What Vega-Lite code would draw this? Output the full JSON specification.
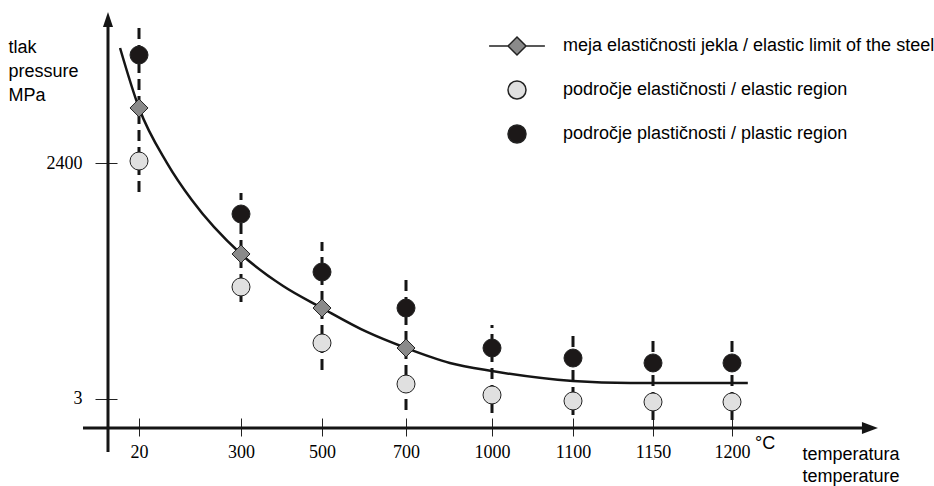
{
  "$schema": "https://vega.github.io/schema/vega-lite/v6.json",
  "width": 770,
  "height": 416,
  "autosize": {"type": "none"},
  "padding": {"left": 108, "top": 12, "right": 56, "bottom": 58},
  "background": "white",
  "config": {"view": {"stroke": null}, "axis": {"grid": false}},
  "title": {"text": "°C", "orient": "bottom", "anchor": "start", "frame": "group", "dx": 647, "dy": -50, "offset": 0, "font": "Liberation Sans", "fontSize": 18, "fontWeight": "normal", "color": "black"},
  "layer": [
    {
      "data": {"values": [
        {"t": 20, "lo": 2106, "hi": 3771},
        {"t": 300, "lo": 988, "hi": 2095},
        {"t": 500, "lo": 298, "hi": 1598},
        {"t": 700, "lo": -109, "hi": 1242},
        {"t": 1000, "lo": -139, "hi": 755},
        {"t": 1100, "lo": -160, "hi": 673},
        {"t": 1150, "lo": -210, "hi": 633},
        {"t": 1200, "lo": -210, "hi": 633}
      ]},
      "mark": {"type": "rule", "strokeDash": [11, 6], "strokeWidth": 3, "color": "#151515"},
      "encoding": {
        "x": {"field": "t", "type": "quantitative",
          "scale": {"domain": [20, 300, 500, 700, 1000, 1100, 1150, 1200], "range": [31, 133, 214, 298, 384, 465, 545, 624], "zero": false, "nice": false},
          "axis": {"orient": "bottom", "offset": -10, "domain": false, "tickSize": 18, "tickColor": "#222", "tickWidth": 1,
            "values": [20, 300, 500, 700, 1000, 1100, 1150, 1200], "format": "d",
            "labelFont": "Liberation Serif", "labelFontSize": 18, "labelColor": "black", "labelPadding": 7, "labelOverlap": false, "labelFlush": false,
            "title": ["temperatura", "temperature"], "titleAlign": "left", "titleAnchor": "start", "titleX": 694, "titleY": 41, "titleBaseline": "alphabetic", "titleLineHeight": 22,
            "titleFont": "Liberation Sans", "titleFontSize": 18, "titleFontWeight": "normal", "titleColor": "black"}},
        "y": {"field": "lo", "type": "quantitative",
          "scale": {"domain": [-291.6, 3933.8], "zero": false, "nice": false},
          "axis": {"orient": "left", "offset": -9, "domain": false, "tickSize": 22, "tickColor": "#222", "tickWidth": 1,
            "values": [3, 2400], "format": "d",
            "labelFont": "Liberation Serif", "labelFontSize": 18, "labelColor": "black", "labelPadding": 13, "labelOverlap": false, "labelFlush": false,
            "title": ["tlak", "pressure", "MPa"], "titleAngle": 0, "titleAlign": "left", "titleAnchor": "start", "titleBaseline": "alphabetic", "titleX": -109, "titleY": 40, "titleLineHeight": 24,
            "titleFont": "Liberation Sans", "titleFontSize": 18, "titleFontWeight": "normal", "titleColor": "black"}},
        "y2": {"field": "hi"}
      }
    },
    {
      "data": {"values": [
        {"t": -32, "v": 3568},
        {"t": 20, "v": 2959},
        {"t": 97, "v": 2400},
        {"t": 165, "v": 2024},
        {"t": 300, "v": 1476},
        {"t": 404, "v": 1150},
        {"t": 500, "v": 927},
        {"t": 607, "v": 684},
        {"t": 700, "v": 521},
        {"t": 853, "v": 369},
        {"t": 1000, "v": 287},
        {"t": 1100, "v": 186},
        {"t": 1136, "v": 166},
        {"t": 1210, "v": 166}
      ]},
      "mark": {"type": "line", "interpolate": "monotone", "strokeWidth": 2.5, "color": "#151515"},
      "encoding": {
        "x": {"field": "t", "type": "quantitative"},
        "y": {"field": "v", "type": "quantitative"}
      }
    },
    {
      "data": {"values": [
        {"t": 20, "v": 2959, "series": "meja elastičnosti jekla / elastic limit of the steel"},
        {"t": 300, "v": 1476, "series": "meja elastičnosti jekla / elastic limit of the steel"},
        {"t": 500, "v": 927, "series": "meja elastičnosti jekla / elastic limit of the steel"},
        {"t": 700, "v": 521, "series": "meja elastičnosti jekla / elastic limit of the steel"}
      ]},
      "mark": {"type": "point", "filled": true, "shape": "diamond", "size": 324, "stroke": "#222", "strokeWidth": 1, "opacity": 1},
      "encoding": {
        "x": {"field": "t", "type": "quantitative"},
        "y": {"field": "v", "type": "quantitative"},
        "fill": {"field": "series", "type": "nominal",
          "scale": {"domain": ["meja elastičnosti jekla / elastic limit of the steel", "področje elastičnosti / elastic region", "področje plastičnosti / plastic region"], "range": ["#8a8a8a", "#e0e0e0", "#1c1818"]},
          "legend": {"orient": "none", "legendX": 399, "legendY": 24, "title": null, "padding": 0,
            "symbolSize": 324, "symbolStrokeColor": "#222", "symbolStrokeWidth": 1.5, "symbolOpacity": 1,
            "labelFont": "Liberation Sans", "labelFontSize": 18, "labelColor": "black", "labelLimit": 600, "labelOffset": 36, "rowPadding": 20}}
      }
    },
    {
      "data": {"values": [
        {"t": 20, "v": 2959, "series": "meja elastičnosti jekla / elastic limit of the steel"},
        {"t": 20, "v": 2420, "series": "področje elastičnosti / elastic region"},
        {"t": 20, "v": 3497, "series": "področje plastičnosti / plastic region"}
      ]},
      "mark": {"type": "point", "filled": true, "size": 324, "stroke": "#222", "strokeWidth": 1, "opacity": 0},
      "encoding": {
        "x": {"field": "t", "type": "quantitative"},
        "y": {"field": "v", "type": "quantitative"},
        "fill": {"field": "series", "type": "nominal"},
        "shape": {"field": "series", "type": "nominal",
          "scale": {"domain": ["meja elastičnosti jekla / elastic limit of the steel", "področje elastičnosti / elastic region", "področje plastičnosti / plastic region"], "range": ["M-3.1,0H-1M1,0H3.1M-1,0L0,-1L1,0L0,1Z", "circle", "circle"]},
          "legend": {"orient": "none", "legendX": 399, "legendY": 24, "title": null, "padding": 0,
            "symbolSize": 324, "symbolStrokeColor": "#222", "symbolStrokeWidth": 1.5, "symbolOpacity": 1,
            "labelFont": "Liberation Sans", "labelFontSize": 18, "labelColor": "black", "labelLimit": 600, "labelOffset": 36, "rowPadding": 20}}
      }
    },
    {
      "data": {"values": [
        {"t": 20, "v": 2420, "series": "področje elastičnosti / elastic region"},
        {"t": 300, "v": 1141, "series": "področje elastičnosti / elastic region"},
        {"t": 500, "v": 572, "series": "področje elastičnosti / elastic region"},
        {"t": 700, "v": 155, "series": "področje elastičnosti / elastic region"},
        {"t": 1000, "v": 44, "series": "področje elastičnosti / elastic region"},
        {"t": 1100, "v": -17, "series": "področje elastičnosti / elastic region"},
        {"t": 1150, "v": -27, "series": "področje elastičnosti / elastic region"},
        {"t": 1200, "v": -27, "series": "področje elastičnosti / elastic region"},
        {"t": 20, "v": 3497, "series": "področje plastičnosti / plastic region"},
        {"t": 300, "v": 1882, "series": "področje plastičnosti / plastic region"},
        {"t": 500, "v": 1293, "series": "področje plastičnosti / plastic region"},
        {"t": 700, "v": 927, "series": "področje plastičnosti / plastic region"},
        {"t": 1000, "v": 521, "series": "področje plastičnosti / plastic region"},
        {"t": 1100, "v": 419, "series": "področje plastičnosti / plastic region"},
        {"t": 1150, "v": 369, "series": "področje plastičnosti / plastic region"},
        {"t": 1200, "v": 369, "series": "področje plastičnosti / plastic region"}
      ]},
      "mark": {"type": "point", "filled": true, "shape": "circle", "size": 324, "stroke": "#222", "strokeWidth": 1, "opacity": 1},
      "encoding": {
        "x": {"field": "t", "type": "quantitative"},
        "y": {"field": "v", "type": "quantitative"},
        "fill": {"field": "series", "type": "nominal"}
      }
    },
    {
      "data": {"values": [{}]},
      "mark": {"type": "rule", "strokeWidth": 3, "color": "#151515"},
      "encoding": {
        "x": {"datum": -65.1, "type": "quantitative"},
        "y": {"datum": -535.3, "type": "quantitative"},
        "y2": {"datum": 3852}
      }
    },
    {
      "data": {"values": [{}]},
      "mark": {"type": "rule", "strokeWidth": 3, "color": "#151515"},
      "encoding": {
        "x": {"datum": -133.7, "type": "quantitative"},
        "x2": {"datum": 1284},
        "y": {"datum": -291.6, "type": "quantitative"}
      }
    },
    {
      "data": {"values": [{}]},
      "mark": {"type": "point", "filled": true, "opacity": 1, "size": 225, "color": "#151515", "shape": "M0,-1L0.67,1L-0.67,1Z"},
      "encoding": {
        "x": {"datum": -65.1, "type": "quantitative"},
        "y": {"datum": 3857.6, "type": "quantitative"}
      }
    },
    {
      "data": {"values": [{}]},
      "mark": {"type": "point", "filled": true, "opacity": 1, "size": 256, "color": "#151515", "shape": "M1,0L-1,-0.75L-1,0.75Z"},
      "encoding": {
        "x": {"datum": 1287.3, "type": "quantitative"},
        "y": {"datum": -291.6, "type": "quantitative"}
      }
    }
  ]
}
